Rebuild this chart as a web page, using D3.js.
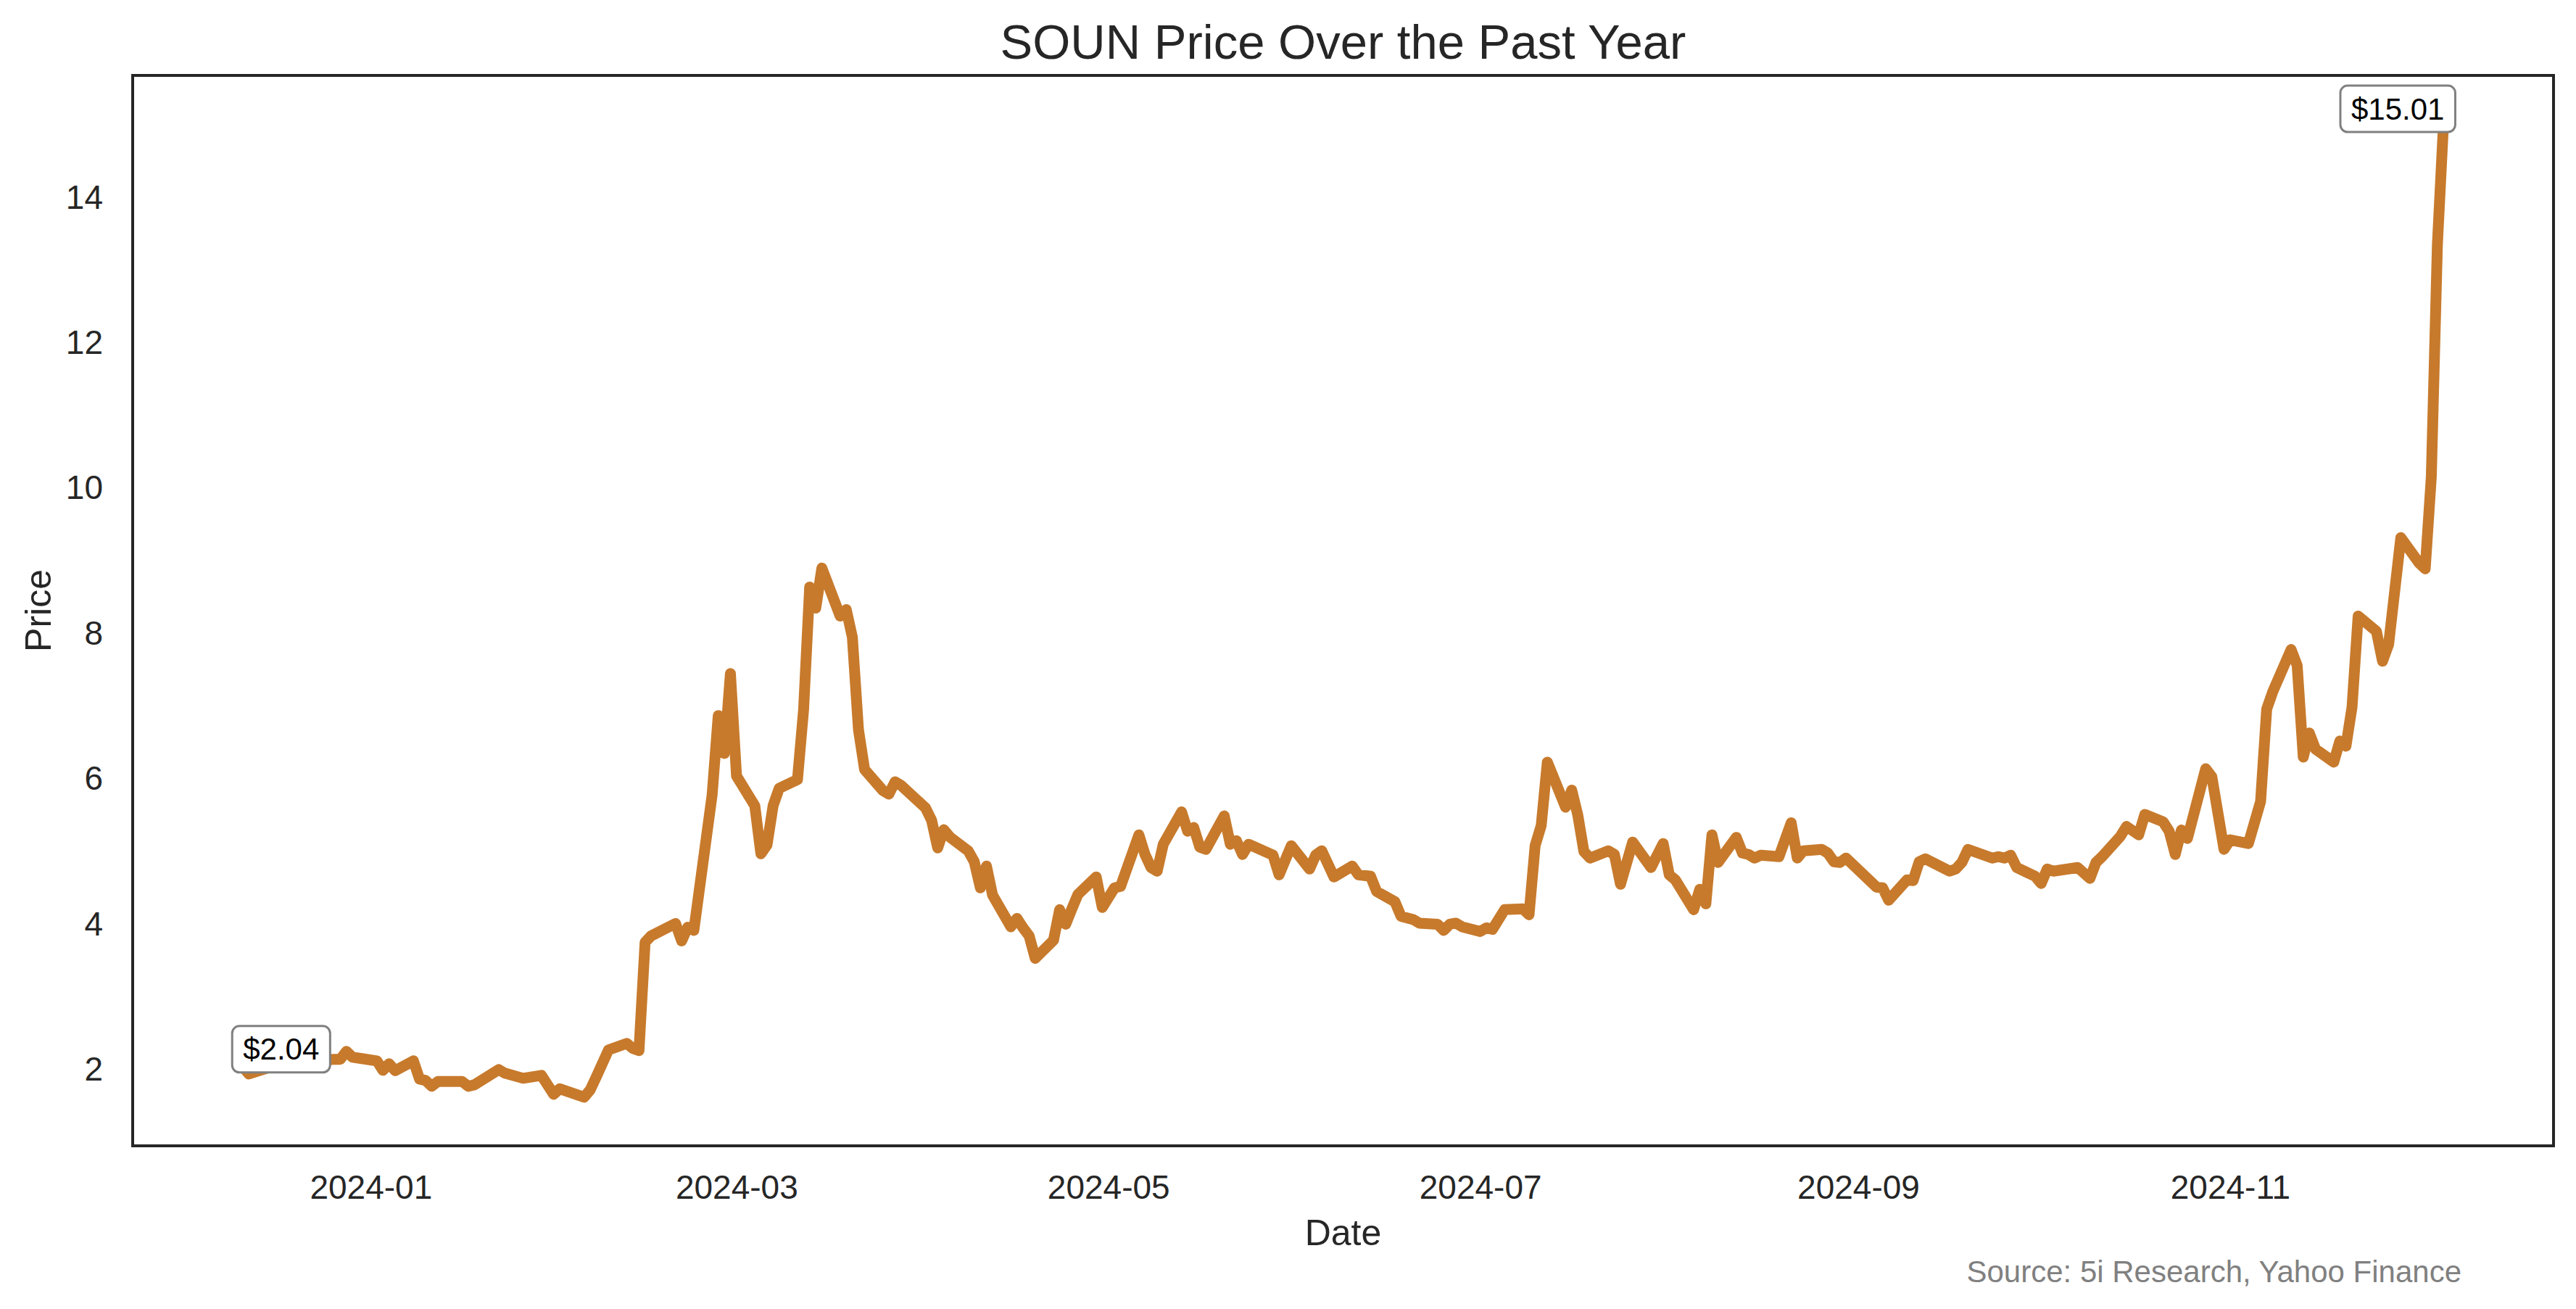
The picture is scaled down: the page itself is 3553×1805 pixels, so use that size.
<!DOCTYPE html>
<html>
<head>
<meta charset="utf-8">
<script src="https://cdn.jsdelivr.net/npm/d3@7"></script>
<style>
  body { margin: 0; background: #fff; }
  text { font-family: "Liberation Sans", Arial, sans-serif; }
</style>
</head>
<body>
<svg id="chart"></svg>
<script>
// closing prices (trading days where the line turns)
const dates = [
  "2023-12-11","2023-12-12","2023-12-18","2023-12-26","2023-12-27","2023-12-28","2023-12-29",
  "2024-01-02","2024-01-03","2024-01-04","2024-01-05","2024-01-08","2024-01-09","2024-01-10",
  "2024-01-11","2024-01-12","2024-01-16","2024-01-17","2024-01-18","2024-01-22","2024-01-23",
  "2024-01-26","2024-01-29","2024-01-31","2024-02-01","2024-02-05","2024-02-06","2024-02-07",
  "2024-02-09","2024-02-12","2024-02-13","2024-02-14","2024-02-15","2024-02-16","2024-02-20",
  "2024-02-21","2024-02-22","2024-02-23","2024-02-26","2024-02-27","2024-02-28","2024-02-29",
  "2024-03-01","2024-03-04","2024-03-05","2024-03-06","2024-03-07","2024-03-08","2024-03-11",
  "2024-03-12","2024-03-13","2024-03-14","2024-03-15","2024-03-18","2024-03-19","2024-03-20",
  "2024-03-21","2024-03-22","2024-03-25","2024-03-26","2024-03-27","2024-03-28","2024-04-01",
  "2024-04-02","2024-04-03","2024-04-04","2024-04-05","2024-04-08","2024-04-09","2024-04-10",
  "2024-04-11","2024-04-12","2024-04-15","2024-04-16","2024-04-17","2024-04-18","2024-04-19",
  "2024-04-22","2024-04-23","2024-04-24","2024-04-25","2024-04-26","2024-04-29","2024-04-30",
  "2024-05-02","2024-05-03","2024-05-06","2024-05-07","2024-05-08","2024-05-09","2024-05-10",
  "2024-05-13","2024-05-14","2024-05-15","2024-05-16","2024-05-17","2024-05-20","2024-05-21",
  "2024-05-22","2024-05-23","2024-05-24","2024-05-28","2024-05-29","2024-05-31","2024-06-03",
  "2024-06-04","2024-06-05","2024-06-07","2024-06-10","2024-06-11","2024-06-13","2024-06-14",
  "2024-06-17","2024-06-18","2024-06-20","2024-06-21","2024-06-24","2024-06-25","2024-06-26",
  "2024-06-27","2024-06-28","2024-07-01","2024-07-02","2024-07-03","2024-07-05","2024-07-08",
  "2024-07-09","2024-07-10","2024-07-11","2024-07-12","2024-07-15","2024-07-16","2024-07-17",
  "2024-07-18","2024-07-19","2024-07-22","2024-07-23","2024-07-24","2024-07-26","2024-07-29",
  "2024-07-31","2024-08-01","2024-08-02","2024-08-05","2024-08-06","2024-08-07","2024-08-08",
  "2024-08-09","2024-08-12","2024-08-13","2024-08-14","2024-08-15","2024-08-16","2024-08-19",
  "2024-08-21","2024-08-22","2024-08-23","2024-08-26","2024-08-27","2024-08-28","2024-08-29",
  "2024-08-30","2024-09-04","2024-09-05","2024-09-06","2024-09-09","2024-09-10","2024-09-11",
  "2024-09-12","2024-09-16","2024-09-17","2024-09-18","2024-09-19","2024-09-20","2024-09-23",
  "2024-09-24","2024-09-25","2024-09-26","2024-09-27","2024-09-30","2024-10-01","2024-10-02",
  "2024-10-03","2024-10-07","2024-10-09","2024-10-10","2024-10-11","2024-10-14","2024-10-15",
  "2024-10-17","2024-10-18","2024-10-21","2024-10-22","2024-10-23","2024-10-24","2024-10-25",
  "2024-10-28","2024-10-29","2024-10-31","2024-11-01","2024-11-04","2024-11-05","2024-11-06",
  "2024-11-07","2024-11-08","2024-11-11","2024-11-12","2024-11-13","2024-11-14","2024-11-15",
  "2024-11-18","2024-11-19","2024-11-20","2024-11-21","2024-11-22","2024-11-25","2024-11-26",
  "2024-11-27","2024-11-29","2024-12-02","2024-12-03","2024-12-04","2024-12-05","2024-12-06"
];

const prices = [
  2.04, 1.94, 2.10, 2.14, 2.14, 2.25, 2.17,
  2.12, 1.99, 2.08, 1.985, 2.12, 1.87, 1.85,
  1.77, 1.835, 1.835, 1.77, 1.79, 2.00, 1.95,
  1.88, 1.92, 1.66, 1.735, 1.62, 1.72, 1.90,
  2.27, 2.36, 2.29, 2.26, 3.75, 3.84, 4.01,
  3.77, 3.96, 3.915, 5.78, 6.87, 6.35, 7.45,
  6.04, 5.63, 4.97, 5.09, 5.63, 5.87, 5.99,
  6.95, 8.64, 8.35, 8.90, 8.24, 8.33, 7.95,
  6.68, 6.13, 5.84, 5.79, 5.96, 5.91, 5.60,
  5.43, 5.05, 5.30, 5.20, 5.01, 4.86, 4.50,
  4.80, 4.40, 3.965, 4.08, 3.95, 3.84, 3.53,
  3.78, 4.20, 4.00, 4.21, 4.41, 4.65, 4.23,
  4.50, 4.52, 5.23, 4.96, 4.78, 4.73, 5.10,
  5.545, 5.28, 5.33, 5.06, 5.03, 5.49, 5.10,
  5.15, 4.96, 5.10, 4.95, 4.68, 5.08, 4.76,
  4.95, 5.01, 4.65, 4.80, 4.68, 4.66, 4.45,
  4.31, 4.11, 4.065, 4.015, 4.00, 3.915, 4.00,
  4.015, 3.965, 3.90, 3.95, 3.93, 4.20, 4.21,
  4.13, 5.08, 5.36, 6.23, 5.61, 5.845, 5.50,
  5.00, 4.91, 5.01, 4.96, 4.55, 5.13, 4.78,
  5.11, 4.68, 4.61, 4.20, 4.48, 4.28, 5.23,
  4.85, 5.195, 4.98, 4.96, 4.91, 4.95, 4.93,
  5.395, 4.91, 5.01, 5.03, 4.98, 4.86, 4.85,
  4.91, 4.51, 4.50, 4.33, 4.61, 4.60, 4.86,
  4.90, 4.73, 4.76, 4.85, 5.03, 5.00, 4.91,
  4.93, 4.91, 4.95, 4.78, 4.66, 4.56, 4.76,
  4.73, 4.78, 4.63, 4.85, 4.93, 5.21, 5.345,
  5.23, 5.51, 5.41, 5.28, 4.96, 5.295, 5.18,
  6.14, 6.03, 5.03, 5.16, 5.11, 5.40, 5.69,
  6.96, 7.20, 7.78, 7.56, 6.30, 6.63, 6.41,
  6.23, 6.52, 6.45, 6.99, 8.24, 8.03, 7.62,
  7.85, 9.32, 8.97, 8.89, 10.15, 13.35, 15.01
];

const xTickLabels = ["2024-01", "2024-03", "2024-05", "2024-07", "2024-09", "2024-11"];
const yTickValues = [2, 4, 6, 8, 10, 12, 14];

const title = "SOUN Price Over the Past Year";
const xLabel = "Date";
const yLabel = "Price";
const sourceNote = "Source: 5i Research, Yahoo Finance";

// ---- drawing ----
const width = 3553, height = 1805;
const plot = { left: 183, right: 3522, top: 104, bottom: 1580 };
const ink = "#262626";
const lineColor = "#c77a2c";

const parse = d3.timeParse("%Y-%m-%d");
const data = dates.map((d, i) => ({ date: parse(d), price: prices[i] }));

const svg = d3.select("#chart")
  .attr("width", width)
  .attr("height", height)
  .style("background", "#fff");

// 5% padding on both axes, like matplotlib's default margins
const tExtent = d3.extent(data, d => d.date.getTime());
const tPad = (tExtent[1] - tExtent[0]) * 0.05;
const x = d3.scaleTime()
  .domain([new Date(tExtent[0] - tPad), new Date(tExtent[1] + tPad)])
  .range([plot.left, plot.right]);

const pExtent = d3.extent(prices);
const pPad = (pExtent[1] - pExtent[0]) * 0.05;
const y = d3.scaleLinear()
  .domain([pExtent[0] - pPad, pExtent[1] + pPad])
  .range([plot.bottom, plot.top]);

const monthParse = d3.timeParse("%Y-%m");

const xAxis = d3.axisBottom(x)
  .tickValues(xTickLabels.map(monthParse))
  .tickFormat(d3.timeFormat("%Y-%m"))
  .tickSize(0)
  .tickPadding(40);

const yAxis = d3.axisLeft(y)
  .tickValues(yTickValues)
  .tickSize(0)
  .tickPadding(41);

const gx = svg.append("g")
  .attr("transform", `translate(0,${plot.bottom})`)
  .call(xAxis);
gx.select(".domain").remove();
gx.selectAll("text")
  .attr("fill", ink)
  .style("font-size", "46px")
  .style("font-family", "'Liberation Sans', Arial, sans-serif");

const gy = svg.append("g")
  .attr("transform", `translate(${plot.left},0)`)
  .call(yAxis);
gy.select(".domain").remove();
gy.selectAll("text")
  .attr("fill", ink)
  .style("font-size", "46px")
  .style("font-family", "'Liberation Sans', Arial, sans-serif");

svg.append("clipPath")
  .attr("id", "plot-clip")
  .append("rect")
  .attr("x", plot.left)
  .attr("y", plot.top)
  .attr("width", plot.right - plot.left)
  .attr("height", plot.bottom - plot.top);

const line = d3.line()
  .x(d => x(d.date))
  .y(d => y(d.price));

svg.append("path")
  .datum(data)
  .attr("clip-path", "url(#plot-clip)")
  .attr("d", line)
  .attr("fill", "none")
  .attr("stroke", lineColor)
  .attr("stroke-width", 15)
  .attr("stroke-linejoin", "round")
  .attr("stroke-linecap", "butt");

// spines
svg.append("rect")
  .attr("x", plot.left)
  .attr("y", plot.top)
  .attr("width", plot.right - plot.left)
  .attr("height", plot.bottom - plot.top)
  .attr("fill", "none")
  .attr("stroke", ink)
  .attr("stroke-width", 4);

// first / last price call-outs
function callout(d, dx, dy) {
  const cx = x(d.date) + dx;
  const cy = y(d.price) + dy;
  const g = svg.append("g");
  const label = g.append("text")
    .attr("x", cx)
    .attr("y", cy)
    .attr("text-anchor", "middle")
    .attr("dominant-baseline", "central")
    .attr("fill", "#000")
    .style("font-size", "42px")
    .text(`$${d.price.toFixed(2)}`);
  const bb = label.node().getBBox();
  g.insert("rect", "text")
    .attr("x", bb.x - 15)
    .attr("y", cy - 32)
    .attr("width", bb.width + 30)
    .attr("height", 64)
    .attr("rx", 10)
    .attr("fill", "#fff")
    .attr("stroke", "#808080")
    .attr("stroke-width", 3);
}
callout(data[0], 53, -24);
callout(data[data.length - 1], -63, -21);

// titles
svg.append("text")
  .attr("x", (plot.left + plot.right) / 2)
  .attr("y", 81)
  .attr("text-anchor", "middle")
  .attr("fill", ink)
  .style("font-size", "67px")
  .text(title);

svg.append("text")
  .attr("x", (plot.left + plot.right) / 2)
  .attr("y", 1717)
  .attr("text-anchor", "middle")
  .attr("fill", ink)
  .style("font-size", "50px")
  .text(xLabel);

svg.append("text")
  .attr("transform", `translate(70,${(plot.top + plot.bottom) / 2})rotate(-90)`)
  .attr("text-anchor", "middle")
  .attr("fill", ink)
  .style("font-size", "50px")
  .text(yLabel);

svg.append("text")
  .attr("x", 3395)
  .attr("y", 1768)
  .attr("text-anchor", "end")
  .attr("fill", "#808080")
  .style("font-size", "42px")
  .text(sourceNote);
</script>
</body>
</html>
